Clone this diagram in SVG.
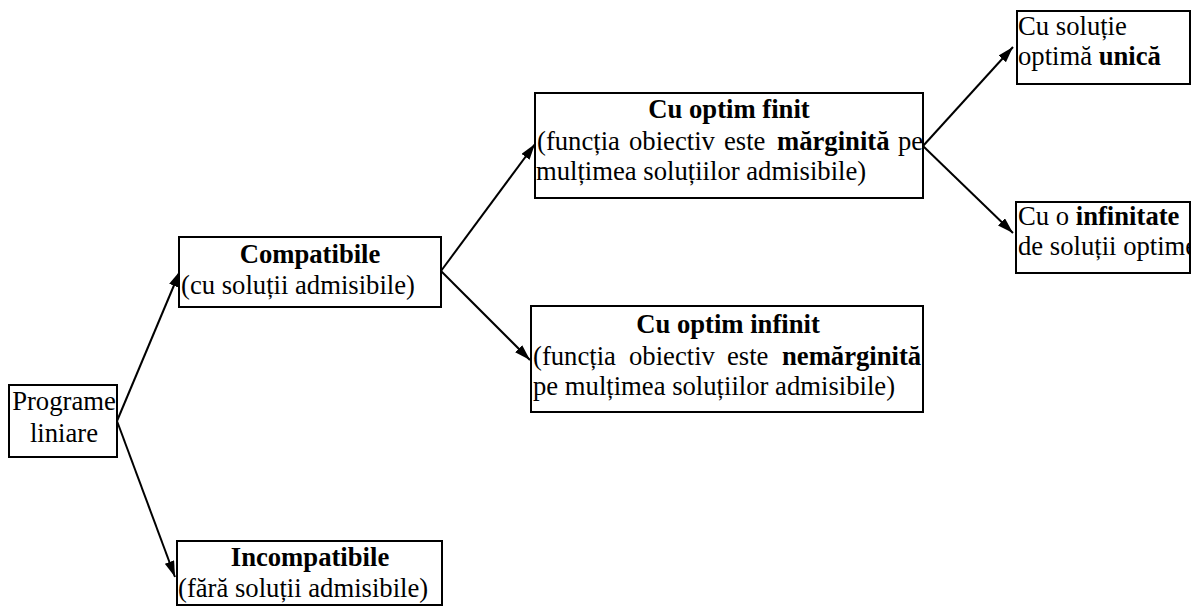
<svg xmlns="http://www.w3.org/2000/svg" width="1191" height="608" viewBox="0 0 1191 608">
<defs>
<style>
.box{fill:#fff;stroke:#000;stroke-width:2}
.t{font-size:26.67px;fill:#000}
.b{font-weight:bold}
.m{text-anchor:middle}
.ln{stroke:#000;stroke-width:2;fill:none;marker-end:url(#ah)}
</style>
<marker id="ah" viewBox="0 0 16 10" refX="16" refY="5" markerWidth="16" markerHeight="10" markerUnits="userSpaceOnUse" orient="auto">
<path d="M0,0 L16,5 L0,10 Z" fill="#000"/>
</marker>
</defs>
<rect width="1191" height="608" fill="#fff"/>
<g id="connectors">
<line class="ln" x1="117" y1="421" x2="180" y2="271"/>
<line class="ln" x1="117" y1="421" x2="175" y2="577"/>
<line class="ln" x1="441" y1="271" x2="535" y2="144"/>
<line class="ln" x1="441" y1="271" x2="530" y2="360"/>
<line class="ln" x1="923" y1="146" x2="1013" y2="47"/>
<line class="ln" x1="923" y1="146" x2="1013" y2="233"/>
</g>
<g font-family="'Liberation Serif', 'DejaVu Serif', serif">
<g id="programe">
<rect class="box" x="9" y="385" width="108" height="72"/>
<text class="t m" x="64" y="410">Programe</text>
<text class="t m" x="64" y="442">liniare</text>
</g>
<g id="compatibile">
<rect class="box" x="179" y="237" width="262" height="70"/>
<text class="t b m" x="310" y="263">Compatibile</text>
<text class="t" x="181" y="294">(cu soluții admisibile)</text>
</g>
<g id="incompatibile">
<rect class="box" x="177" y="541" width="265" height="64"/>
<text class="t b m" x="310" y="566">Incompatibile</text>
<text class="t" x="178" y="597">(fără soluții admisibile)</text>
</g>
<g id="optim-finit">
<rect class="box" x="535" y="93" width="388" height="105"/>
<text class="t b m" x="729" y="118">Cu optim finit</text>
<text class="t" y="150"><tspan x="537">(funcția</tspan><tspan x="629">obiectiv</tspan><tspan x="724">este</tspan><tspan class="b" x="777">mărginită</tspan><tspan x="898">pe</tspan></text>
<text class="t" x="536" y="180">mulțimea soluțiilor admisibile)</text>
</g>
<g id="optim-infinit">
<rect class="box" x="531" y="306" width="392" height="106"/>
<text class="t b m" x="728" y="333">Cu optim infinit</text>
<text class="t" y="365"><tspan x="533">(funcția</tspan><tspan x="629">obiectiv</tspan><tspan x="727">este</tspan><tspan class="b" x="782">nemărginită</tspan></text>
<text class="t" x="533" y="395">pe mulțimea soluțiilor admisibile)</text>
</g>
<g id="solutie-unica">
<rect class="box" x="1017" y="11" width="173" height="73"/>
<text class="t" x="1018" y="35">Cu soluție</text>
<text class="t" x="1018" y="65">optimă <tspan class="b">unică</tspan></text>
</g>
<g id="infinitate">
<rect class="box" x="1016" y="202" width="174" height="71"/>
<text class="t" x="1018" y="225">Cu o <tspan class="b">infinitate</tspan></text>
<text class="t" x="1018" y="255">de soluții optime</text>
</g>
</g>
</svg>
